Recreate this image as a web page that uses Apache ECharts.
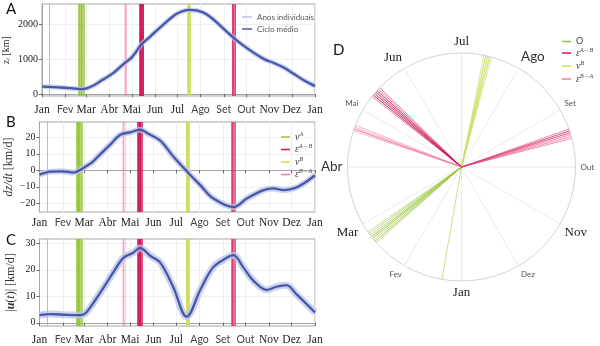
<!DOCTYPE html>
<html><head><meta charset="utf-8">
<script src="https://cdn.jsdelivr.net/npm/echarts@6/dist/echarts.min.js"></script>
<style>html,body{margin:0;padding:0;background:#fff}#c{width:600px;height:346px}</style>
</head><body><div id="c"></div>
<script>
// Month ticks (day of year)
const monthNames = ['Jan','Fev','Mar','Abr','Mai','Jun','Jul','Ago','Set','Out','Nov','Dez','Jan'];
const monthStarts = [0,31,59,90,120,151,181,212,243,273,304,334,365];
const polarMonths = ['Jan','Fev','Mar','Abr','Mai','Jun','Jul','Ago','Set','Out','Nov','Dez'];

// Panel A: mean depth z_i [km]
const daysA = [0,15,30,45,53,62,70,80,95,110,120,133,145,160,177,186,196,208,222,240,257,275,297,310,323,337,350,365];
const zMean = [218,205,185,160,145,185,260,400,600,880,1050,1420,1650,1940,2250,2350,2400,2380,2250,1920,1590,1300,1000,890,760,575,400,232];

// Panel B: dz/dt [km/d]
const daysB = [0,15,30,45,53,62,70,80,95,107,120,133,145,160,177,196,213,230,257,275,297,310,323,337,350,365];
const dzMean = [-2.6,-0.8,-0.6,-1.4,0,2.5,5,9.5,16.2,21.6,23,24.6,22,18,8.5,-1,-9,-17,-22.3,-17,-12,-11,-12,-11,-8,-3];

// Panel C: |u(t)| [km/d]
const daysC = [0,15,36,54,62,80,98,111,124,133,147,160,177,195,213,230,248,257,270,283,301,314,327,341,365];
const uMean = [2.9,3.3,3.0,2.9,3.9,11.2,19.1,24.5,26.4,28.2,25.2,22.7,13.6,2.3,12.4,20.9,24.5,25.5,20.9,16,12.4,13.6,14.2,10.6,3.9];

// Event dates per year (day of year)
const nuADays = [10,49,50,50,51,52,52,53,53,54,55,56];
const epsABDays = [130,131,131,132,132,133,133,134,134,135,136];
const epsBAEarlyDays = [110,111,111,111,112,113];
const nuBDays = [194,195,195,196,196,197,197,198];
const epsBALateDays = [254,255,255,256,256,257,258,259];

const C_MEAN = '#4a56a6', C_HALO = '#b9c4ec';
const C_NUA = '#96c23a', C_NUB = '#cadd5c', C_EAB = '#cc1457', C_EBA = '#ee7ea3', C_EBA2 = '#e03a70';

const SERIF = 'Liberation Serif', SANS = 'Lato';
const sansMonths = {'Fev':1,'Ago':1,'Set':1,'Out':1};

const grids = [
  {left: 39.5, top: 4, width: 275.5, height: 92},
  {left: 39.5, top: 122, width: 275.5, height: 90},
  {left: 39.5, top: 239, width: 275.5, height: 90}
].map(g => Object.assign(g, {show: true, borderColor: '#a5a5a5', borderWidth: 1, backgroundColor: 'transparent'}));

function xAxis(gi, margin) {
  return {
    type: 'value', gridIndex: gi, min: 0, max: 365,
    axisLine: {show: true, lineStyle: {color: '#a5a5a5'}},
    axisTick: {show: true, customValues: monthStarts, length: 3, lineStyle: {color: '#666'}},
    splitLine: {show: true, lineStyle: {color: '#efefef', width: 1}},
    axisLabel: {
      customValues: monthStarts, margin,
      formatter: v => {
        const n = monthNames[monthStarts.indexOf(Math.round(v))];
        return sansMonths[n] ? '{ms|' + n + '}' : '{mr|' + n + '}';
      },
      rich: {
        mr: {fontFamily: SERIF, fontSize: 11.5, color: '#222'},
        ms: {fontFamily: SANS, fontSize: 10.5, color: '#444'}
      }
    }
  };
}
const minus = v => v < 0 ? '\u2212' + Math.abs(v) : String(v);
function yAxis(gi, min, max, ticks, name, gap, fs) {
  return {
    type: 'value', gridIndex: gi, min, max,
    axisLine: {show: true, lineStyle: {color: '#a5a5a5'}},
    axisTick: {show: true, customValues: ticks, length: 3, lineStyle: {color: '#666'}},
    splitLine: {show: true, lineStyle: {color: '#efefef', width: 1}},
    axisLabel: {customValues: ticks, formatter: minus, fontFamily: SERIF, fontSize: 10, color: '#222', margin: 4},
    name, nameLocation: 'middle', nameGap: gap,
    nameTextStyle: {
      fontFamily: SERIF, fontSize: fs, color: '#333',
      rich: {
        it: {fontFamily: SERIF, fontStyle: 'italic', fontSize: fs, color: '#333'},
        sub: {fontFamily: SERIF, fontStyle: 'italic', fontSize: fs * 0.7, color: '#333', padding: [5, 0, 0, 0]},
        bd: {fontFamily: SERIF, fontStyle: 'italic', fontWeight: 'bold', fontSize: fs, color: '#333'}
      }
    }
  };
}

function pairs(days, vals) { return days.map((d, i) => [d, vals[i]]); }

function curveSeries(gi, days, vals, haloWidth) {
  const data = pairs(days, vals);
  return [
    {name: 'Anos individuais', type: 'line', xAxisIndex: gi, yAxisIndex: gi, data, smooth: 0.35,
     showSymbol: false, symbol: 'none', color: C_HALO, lineStyle: {width: haloWidth, opacity: 0.75}, z: 8, silent: true},
    {name: 'Ciclo médio', type: 'line', xAxisIndex: gi, yAxisIndex: gi, data, smooth: 0.35,
     showSymbol: false, symbol: 'none', color: C_MEAN, lineStyle: {width: 2.3}, z: 10, silent: true}
  ];
}

function eventSeries(name, days, color, gi, opacity) {
  return {
    name, type: 'line', xAxisIndex: gi, yAxisIndex: gi, data: [], color, z: 2, silent: true,
    markLine: {
      silent: true, symbol: 'none', animation: false, label: {show: false},
      lineStyle: {color, width: 1, type: 'solid', opacity},
      data: days.map(d => ({xAxis: d}))
    }
  };
}

function panelEvents(gi) {
  return [
    eventSeries('νA', nuADays, C_NUA, gi, 0.75),
    eventSeries('εAB', epsABDays, C_EAB, gi, 0.75),
    eventSeries('νB', nuBDays, C_NUB, gi, 0.8),
    eventSeries('εBA', epsBAEarlyDays, C_EBA, gi, 0.3),
    eventSeries('εBA', epsBALateDays, C_EBA2, gi, 0.75)
  ];
}

function polarSeries(name, days, color, opacity) {
  const data = [];
  days.forEach(d => { const a = d * 360 / 365; data.push([0, a], [1, a], '-'); });
  return {name, type: 'line', coordinateSystem: 'polar', polarIndex: 0, data, color,
    showSymbol: false, symbol: 'none', lineStyle: {width: 0.8, opacity}, silent: true, z: 3};
}

const legendText = {
  'νA': '{g|ν}{sup|A}', 'εAB': '{g|ε}{sup|A→B}', 'νB': '{g|ν}{sup|B}', 'εBA': '{g|ε}{sup|B→A}', 'O': '{o|O}'
};
const legendRich = {
  g: {fontFamily: SERIF, fontStyle: 'italic', fontSize: 10, color: '#444', lineHeight: 10},
  sup: {fontFamily: SERIF, fontStyle: 'italic', fontSize: 6, color: '#444', padding: [0, 0, 6, 0], lineHeight: 10},
  o: {fontFamily: SANS, fontSize: 9, color: '#444', lineHeight: 10}
};

const polarStyle = {'Jul':'pr','Jun':'pr','Mar':'pr','Nov':'pr','Jan':'pr','Ago':'pb','Abr':'pb'};

const option = {
  animation: false,
  backgroundColor: '#fff',
  grid: grids,
  xAxis: [xAxis(0, 8), xAxis(1, 5), xAxis(2, 8)],
  yAxis: [
    yAxis(0, -50, 2570, [0, 1000, 2000], '{it|z}{sub|i} [km]', 30, 10),
    yAxis(1, -25.3, 29.3, [-20, -10, 0, 10, 20], '{it|dz/dt} [km/d]', 25, 12),
    yAxis(2, -1.2, 31.6, [0, 10, 20, 30], '|{bd|u}({it|t})| [km/d]', 23, 12)
  ],
  polar: {center: [461.5, 167], radius: 114},
  angleAxis: {
    type: 'value', min: 0, max: 360, interval: 30, startAngle: 270, clockwise: true,
    axisLine: {show: true, lineStyle: {color: '#d4d4d4', width: 1}},
    axisTick: {show: false},
    splitLine: {show: true, lineStyle: {color: '#d8d8d8', type: 'dotted', width: 1}},
    axisLabel: {
      margin: 5,
      formatter: v => {
        const n = polarMonths[Math.round(v / 30) % 12];
        const k = polarStyle[n] || 'ps';
        return '{' + k + '|' + n + '}';
      },
      rich: {
        pr: {fontFamily: SERIF, fontSize: 13, color: '#222'},
        pb: {fontFamily: SANS, fontSize: 13.5, color: '#333'},
        ps: {fontFamily: SANS, fontSize: 8, color: '#555'}
      }
    }
  },
  radiusAxis: {min: 0, max: 1, axisLine: {show: false}, axisTick: {show: false}, axisLabel: {show: false}, splitLine: {show: false}},
  legend: [
    {data: ['Anos individuais', 'Ciclo médio'], left: 237, top: 8, orient: 'vertical', icon: 'rect',
     itemWidth: 10, itemHeight: 1.5, itemGap: 4, textStyle: {fontFamily: SANS, fontSize: 8, color: '#555'}},
    {data: ['νA', 'εAB', 'νB', 'εBA'], left: 276, top: 126, orient: 'vertical', icon: 'rect',
     itemWidth: 9, itemHeight: 1.5, itemGap: 0.5, formatter: n => legendText[n], textStyle: {rich: legendRich}},
    {data: ['O', 'εAB', 'νB', 'εBA'], left: 557, top: 32, orient: 'vertical', icon: 'rect',
     itemWidth: 9, itemHeight: 1.5, itemGap: 1, formatter: n => legendText[n], textStyle: {rich: legendRich}}
  ],
  graphic: [
    {type: 'text', left: 6, top: 2, style: {text: 'A', font: '15px Lato', fill: '#111'}},
    {type: 'text', left: 6, top: 115, style: {text: 'B', font: '15px Lato', fill: '#111'}},
    {type: 'text', left: 6, top: 233, style: {text: 'C', font: '15px Lato', fill: '#111'}},
    {type: 'text', left: 333, top: 43, style: {text: 'D', font: '15px Lato', fill: '#111'}}
  ],
  series: [
    ...panelEvents(0), ...panelEvents(1), ...panelEvents(2),
    ...curveSeries(0, daysA, zMean, 5),
    ...curveSeries(1, daysB, dzMean, 6),
    ...curveSeries(2, daysC, uMean, 7),
    polarSeries('O', nuADays, C_NUA, 0.7),
    polarSeries('εAB', epsABDays, C_EAB, 0.7),
    polarSeries('νB', nuBDays, C_NUB, 0.8),
    polarSeries('εBA', epsBAEarlyDays, C_EBA, 0.7),
    polarSeries('εBA', epsBALateDays, C_EBA2, 0.7)
  ]
};

const chart = echarts.init(document.getElementById('c'), null, {renderer: 'canvas'});
chart.setOption(option);
</script>
</body></html>
